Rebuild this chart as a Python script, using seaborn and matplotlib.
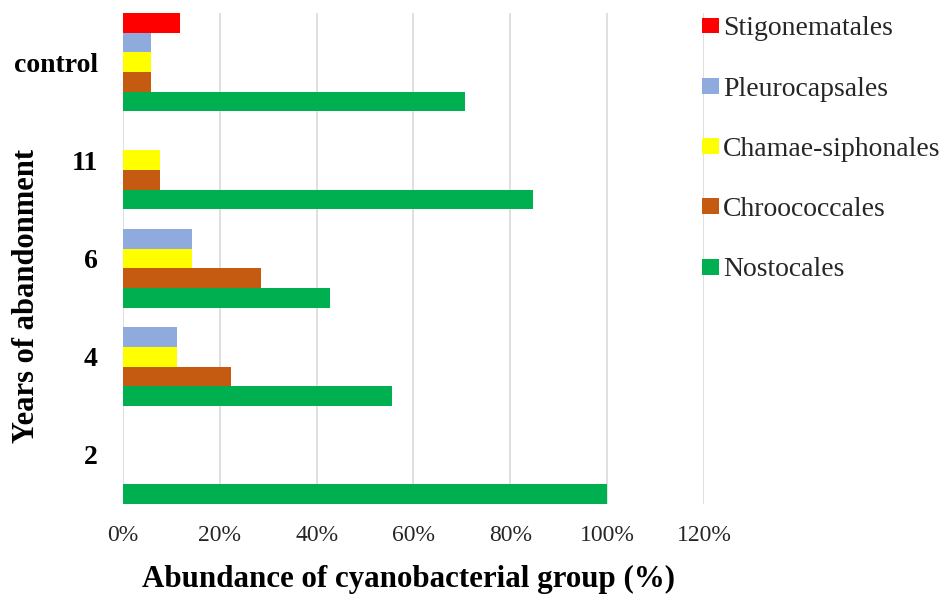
import matplotlib
matplotlib.use("Agg")
import matplotlib.pyplot as plt
import seaborn as sns
import pandas as pd
from matplotlib.ticker import FuncFormatter

# Years since abandonment (top to bottom as drawn)
years = ["control", "11", "6", "4", "2"]

# Relative abundance (%) of each cyanobacterial order per site
stigonematales = [11.76, 0.0, 0.0, 0.0, 0.0]
pleurocapsales = [5.88, 0.0, 14.29, 11.11, 0.0]
chamae_siphonales = [5.88, 7.69, 14.29, 11.11, 0.0]
chroococcales = [5.88, 7.69, 28.57, 22.22, 0.0]
nostocales = [70.59, 84.62, 42.86, 55.56, 100.0]

groups = ["Stigonematales", "Pleurocapsales", "Chamae-siphonales",
          "Chroococcales", "Nostocales"]
colors = ["#FF0000", "#8FAADC", "#FFFF00", "#C55A11", "#00B050"]

series = [stigonematales, pleurocapsales, chamae_siphonales,
          chroococcales, nostocales]
rows = []
for g, vals in zip(groups, series):
    for y, v in zip(years, vals):
        rows.append({"Years": y, "Group": g, "Abundance": v})
df = pd.DataFrame(rows)

sns.set_theme(style="white")
plt.rcParams["font.family"] = ["Liberation Serif", "DejaVu Serif"]

fig = plt.figure(figsize=(9.48, 5.96), dpi=100)
ax = fig.add_axes([0.1297, 0.1544, 0.6129, 0.8238])

sns.barplot(data=df, y="Years", x="Abundance", hue="Group",
            order=years, hue_order=groups, palette=colors, saturation=1,
            orient="h", width=1.0, gap=0, linewidth=0,
            edgecolor="none", errorbar=None, ax=ax, zorder=3)

ax.set_xlim(0, 120)
ax.set_ylim(4.5, -0.5)
ax.set_xticks(range(0, 121, 20))
ax.xaxis.set_major_formatter(FuncFormatter(lambda v, _: f"{v:.0f}%"))
ax.grid(axis="x", color="#D9D9D9", linewidth=1.2, zorder=0)
ax.grid(axis="y", visible=False)
for s in ax.spines.values():
    s.set_visible(False)

ax.tick_params(axis="x", length=0, pad=15, labelsize=17, labelcolor="#262626")
ax.tick_params(axis="y", length=0, pad=18, labelsize=20, labelcolor="black")
for lbl in ax.get_yticklabels():
    lbl.set_fontweight("bold")

ax.set_xlabel("Abundance of cyanobacterial group (%)", fontsize=22.3,
              fontweight="bold", color="black")
ax.xaxis.set_label_coords(0.491, -0.125)
ax.set_ylabel("Years of abandonment", fontsize=22, fontweight="bold",
              color="black")
ax.yaxis.set_label_coords(-0.141, 0.4236)

handles, labels = ax.get_legend_handles_labels()
ax.legend_.remove()
fig.legend(handles, labels, loc="upper left",
           bbox_to_anchor=(694 / 948, 1 - 8 / 596), frameon=False,
           fontsize=20, handlelength=0.6, handleheight=0.5,
           handletextpad=0.15, labelspacing=1.27, borderaxespad=0,
           borderpad=0.3)

fig.savefig("out.png", dpi=100)
